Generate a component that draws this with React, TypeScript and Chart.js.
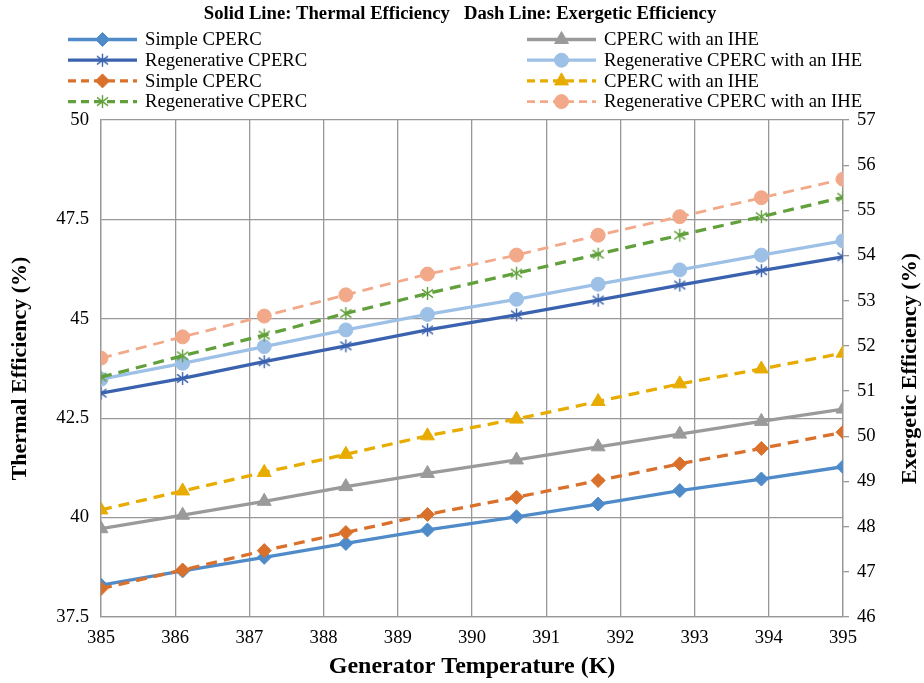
import React, { useEffect, useRef } from 'react';
import { Chart, registerables } from 'chart.js';
import { drawPoint } from 'chart.js/helpers';

Chart.register(...registerables);

// ---------- data ----------
const temperatures = [385, 386.1, 387.2, 388.3, 389.4, 390.6, 391.7, 392.8, 393.9, 395];
const thermalSimple = [38.3, 38.66, 39.0, 39.35, 39.69, 40.02, 40.34, 40.68, 40.97, 41.28];
const thermalIHE = [39.72, 40.06, 40.41, 40.78, 41.11, 41.45, 41.78, 42.1, 42.42, 42.73];
const thermalRegen = [43.13, 43.5, 43.92, 44.32, 44.72, 45.1, 45.47, 45.85, 46.21, 46.56];
const thermalRegenIHE = [43.48, 43.88, 44.3, 44.72, 45.11, 45.49, 45.87, 46.23, 46.6, 46.96];
const exergySimple = [46.63, 47.04, 47.47, 47.87, 48.27, 48.65, 49.02, 49.39, 49.73, 50.09];
const exergyIHE = [48.37, 48.79, 49.2, 49.6, 50.01, 50.38, 50.77, 51.16, 51.49, 51.84];
const exergyRegen = [51.31, 51.78, 52.24, 52.72, 53.16, 53.61, 54.03, 54.45, 54.86, 55.29];
const exergyRegenIHE = [51.73, 52.2, 52.66, 53.13, 53.59, 54.01, 54.45, 54.86, 55.28, 55.69];

const xTicks = [385, 386, 387, 388, 389, 390, 391, 392, 393, 394, 395];
const leftTicks = [37.5, 40, 42.5, 45, 47.5, 50];
const rightTicks = [46, 47, 48, 49, 50, 51, 52, 53, 54, 55, 56, 57];

const chartTitle = 'Solid Line: Thermal Efficiency   Dash Line: Exergetic Efficiency';
const xTitle = 'Generator Temperature (K)';
const leftTitle = 'Thermal Efficiency (%)';
const rightTitle = 'Exergetic Efficiency (%)';

const labelSimple = 'Simple CPERC';
const labelIHE = 'CPERC with an IHE';
const labelRegen = 'Regenerative CPERC';
const labelRegenIHE = 'Regenerative CPERC with an IHE';

// ---------- styles ----------
const FONT = '"Liberation Serif", "Times New Roman", serif';
const GRID = '#989898';
const DASH = [11, 7];

function makeAsterisk(color: string): HTMLCanvasElement {
  const c = document.createElement('canvas');
  const s = 15;
  c.width = s;
  c.height = s;
  const g = c.getContext('2d')!;
  g.strokeStyle = color;
  g.lineWidth = 1.4;
  g.lineCap = 'butt';
  const m = s / 2;
  const r = 6.5;
  g.beginPath();
  g.moveTo(m, m - r);
  g.lineTo(m, m + r);
  const d = r * 0.85;
  g.moveTo(m - d, m - d * 0.75);
  g.lineTo(m + d, m + d * 0.75);
  g.moveTo(m - d, m + d * 0.75);
  g.lineTo(m + d, m - d * 0.75);
  g.stroke();
  return c;
}

function series(
  label: string,
  values: number[],
  axis: string,
  color: string,
  dashed: boolean,
  pointStyle: any,
  radius: number,
  width: number,
  order: number
) {
  return {
    label,
    data: temperatures.map((t, i) => ({ x: t, y: values[i] })),
    yAxisID: axis,
    borderColor: color,
    backgroundColor: color,
    borderWidth: width,
    borderDash: dashed ? DASH : [],
    pointStyle,
    pointRadius: radius,
    pointHoverRadius: radius,
    pointBackgroundColor: color,
    pointBorderColor: color,
    pointBorderWidth: 1,
    tension: 0,
    order,
  };
}

const overlayPlugin = {
  id: 'overlay',
  afterDraw(chart: any) {
    const ctx: CanvasRenderingContext2D = chart.ctx;
    ctx.save();
    ctx.fillStyle = '#000';
    ctx.textBaseline = 'middle';
    ctx.textAlign = 'center';
    ctx.font = `bold 18.67px ${FONT}`;
    ctx.fillText(chartTitle, 460, 14.5);

    chart.data.datasets.forEach((ds: any, i: number) => {
      const col = i % 2;
      const row = Math.floor(i / 2);
      const x0 = col ? 527 : 68;
      const y = 39.5 + row * 20.7;
      const len = 69;
      ctx.save();
      ctx.strokeStyle = ds.borderColor;
      ctx.lineWidth = ds.borderWidth;
      ctx.setLineDash(ds.borderDash && ds.borderDash.length ? [8, 5] : []);
      ctx.beginPath();
      ctx.moveTo(x0, y);
      ctx.lineTo(x0 + len, y);
      ctx.stroke();
      ctx.setLineDash([]);
      ctx.fillStyle = ds.pointBackgroundColor;
      ctx.strokeStyle = ds.pointBorderColor;
      ctx.lineWidth = 1;
      drawPoint(ctx, { pointStyle: ds.pointStyle, radius: ds.pointRadius, rotation: 0, borderWidth: 1 } as any, x0 + len / 2, y);
      ctx.restore();
      ctx.fillStyle = '#000';
      ctx.textAlign = 'left';
      ctx.textBaseline = 'middle';
      ctx.font = `18.67px ${FONT}`;
      ctx.fillText(ds.label, x0 + len + 8, y + 1);
    });

    const area = chart.chartArea;
    ctx.translate(910, (area.top + area.bottom) / 2);
    ctx.rotate(-Math.PI / 2);
    ctx.font = `bold 22px ${FONT}`;
    ctx.textAlign = 'center';
    ctx.textBaseline = 'middle';
    ctx.fillStyle = '#000';
    ctx.fillText(rightTitle, 0, 0);
    ctx.restore();
  },
};

export default function App() {
  const ref = useRef<HTMLCanvasElement>(null);

  useEffect(() => {
    document.body.style.margin = '0';
    const star1 = makeAsterisk('#3A62AF');
    const star2 = makeAsterisk('#62A03C');
    const datasets = [
      series(labelSimple, thermalSimple, 'y', '#4F8BC9', false, 'rectRot', 7, 3.3, 8),
      series(labelIHE, thermalIHE, 'y', '#9A9A9A', false, 'triangle', 8, 3.3, 7),
      series(labelRegen, thermalRegen, 'y', '#3A62AF', false, star1, 7, 3.3, 6),
      series(labelRegenIHE, thermalRegenIHE, 'y', '#9DC0E6', false, 'circle', 7, 3.3, 5),
      series(labelSimple, exergySimple, 'y2', '#D9712C', true, 'rectRot', 7, 3.3, 4),
      series(labelIHE, exergyIHE, 'y2', '#E8AC00', true, 'triangle', 8, 3.3, 3),
      series(labelRegen, exergyRegen, 'y2', '#62A03C', true, star2, 7, 3.3, 2),
      series(labelRegenIHE, exergyRegenIHE, 'y2', '#F2A98A', true, 'circle', 7, 2.8, 1),
    ];

    const tickFont = { family: FONT, size: 18.67 };
    const chart = new Chart(ref.current!, {
      type: 'line',
      data: { datasets } as any,
      plugins: [overlayPlugin],
      options: {
        animation: false,
        responsive: false,
        devicePixelRatio: 1,
        layout: { padding: { top: 120, left: 0, right: 0, bottom: 0 } },
        plugins: { legend: { display: false }, title: { display: false }, tooltip: { enabled: false } },
        scales: {
          x: {
            type: 'linear',
            min: 385,
            max: 395,
            afterBuildTicks: (s: any) => {
              s.ticks = xTicks.map((v) => ({ value: v }));
            },
            afterFit: (s: any) => {
              s.height = 66;
            },
            grid: { color: GRID, lineWidth: 1.3, drawTicks: false },
            border: { display: true, color: GRID, width: 1.3 },
            ticks: { font: tickFont, color: '#000', padding: 10, maxRotation: 0, autoSkip: false },
            title: {
              display: true,
              text: xTitle,
              color: '#000',
              font: { family: FONT, size: 24, weight: 'bold' },
              padding: { top: 0, bottom: 2 },
            },
          },
          y: {
            type: 'linear',
            position: 'left',
            min: 37.5,
            max: 50,
            afterBuildTicks: (s: any) => {
              s.ticks = leftTicks.map((v) => ({ value: v }));
            },
            afterFit: (s: any) => {
              s.width = 101;
            },
            grid: { color: GRID, lineWidth: 1.3, drawTicks: false },
            border: { display: true, color: GRID, width: 1.3 },
            ticks: { font: tickFont, color: '#000', padding: 12 },
            title: {
              display: true,
              text: leftTitle,
              color: '#000',
              font: { family: FONT, size: 22, weight: 'bold' },
              padding: { top: 7, bottom: 0 },
            },
          },
          y2: {
            type: 'linear',
            position: 'right',
            min: 46,
            max: 57,
            afterBuildTicks: (s: any) => {
              s.ticks = rightTicks.map((v) => ({ value: v }));
            },
            afterFit: (s: any) => {
              s.width = 81;
            },
            grid: { drawOnChartArea: false, drawTicks: true, tickLength: 6, color: GRID, lineWidth: 1.3 },
            border: { display: true, color: GRID, width: 1.3 },
            ticks: { font: tickFont, color: '#000', padding: 8 },
          },
        },
      } as any,
    });
    return () => chart.destroy();
  }, []);

  return (
    <div style={{ width: 924, height: 683 }}>
      <canvas ref={ref} width={924} height={683} style={{ display: 'block' }} />
    </div>
  );
}
